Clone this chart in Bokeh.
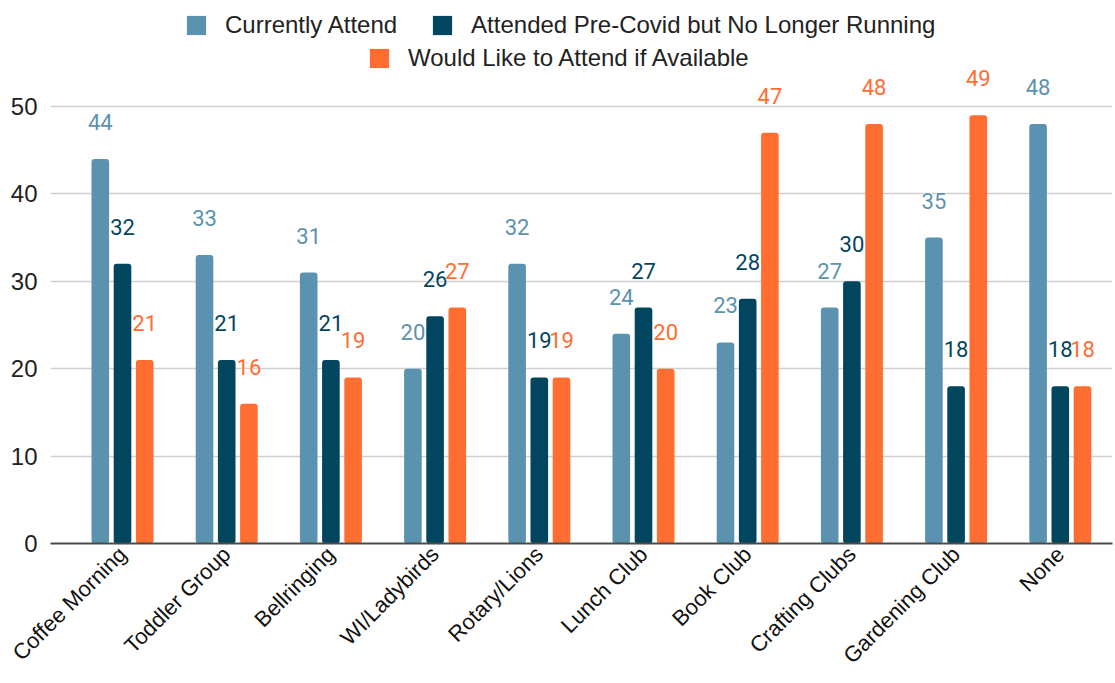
import numpy as np
from bokeh.plotting import figure
from bokeh.models import ColumnDataSource, Legend, LegendItem, FixedTicker, Range1d
from bokeh.core.properties import value
from bokeh.embed import file_html
from bokeh.resources import INLINE

categories = ["Coffee Morning", "Toddler Group", "Bellringing", "WI/Ladybirds", "Rotary/Lions",
              "Lunch Club", "Book Club", "Crafting Clubs", "Gardening Club", "None"]
currently_attend = [44, 33, 31, 20, 32, 24, 23, 27, 35, 48]
pre_covid = [32, 21, 21, 26, 19, 27, 28, 30, 18, 18]
would_like = [21, 16, 19, 27, 19, 20, 47, 48, 49, 18]
series_names = ["Currently Attend", "Attended Pre-Covid but No Longer Running",
                "Would Like to Attend if Available"]
colors = ["#5b92af", "#02455f", "#ff6d30"]
y_ticks = [0, 10, 20, 30, 40, 50]

positions = list(range(1, len(categories) + 1))

p = figure(width=1113, height=681, x_range=Range1d(0.309, 10.501), y_range=Range1d(0, 62.13),
           output_backend="svg", toolbar_location=None,
           min_border_left=50, min_border_right=1, min_border_top=0, min_border_bottom=138)
p.outline_line_color = None
p.background_fill_color = "white"
p.border_fill_color = "white"

p.xgrid.grid_line_color = None
p.ygrid.grid_line_color = "#cfcfcf"
p.ygrid.grid_line_width = 1.5

p.yaxis.ticker = FixedTicker(ticks=y_ticks)
p.yaxis.axis_line_color = None
p.yaxis.major_tick_line_color = None
p.yaxis.minor_tick_line_color = None
p.yaxis.major_tick_out = 0
p.yaxis.major_tick_in = 0
p.yaxis.minor_tick_out = 0
p.yaxis.major_label_standoff = 13
p.yaxis.major_label_text_font = "Liberation Sans"
p.yaxis.major_label_text_font_size = "24px"
p.yaxis.major_label_text_color = "#222222"

p.xaxis.ticker = FixedTicker(ticks=positions)
p.xaxis.major_label_overrides = {pos: c for pos, c in zip(positions, categories)}
p.xaxis.major_label_orientation = np.pi / 4
p.xaxis.axis_line_color = "#4a4a4a"
p.xaxis.axis_line_width = 2
p.xaxis.major_tick_line_color = None
p.xaxis.minor_tick_line_color = None
p.xaxis.major_tick_out = 0
p.xaxis.major_tick_in = 0
p.xaxis.minor_tick_out = 0
p.xaxis.major_label_standoff = 7
p.xaxis.major_label_text_font = "Liberation Sans"
p.xaxis.major_label_text_font_size = "22px"
p.xaxis.major_label_text_color = "#111111"

offsets = [-0.213, 0.0, 0.213]
bar_w = 0.169
items = []
for vals, name, col, off in zip([currently_attend, pre_covid, would_like], series_names, colors, offsets):
    src = ColumnDataSource(dict(x=[pos + off for pos in positions], top=vals,
                                lbl=[str(v) for v in vals]))
    r = p.vbar(x="x", top="top", width=bar_w, bottom=0, source=src, fill_color=col,
               line_color=None, border_radius=3)
    items.append(LegendItem(label=name, renderers=[r]))
    # white halo underneath, then clean text on top
    p.text(x="x", y="top", text="lbl", source=src, y_offset=-37, text_align="center",
           text_baseline="alphabetic", text_font=value("Roboto"), text_font_size="22px",
           text_color="white", text_outline_color="white")
    p.text(x="x", y="top", text="lbl", source=src, y_offset=-37, text_align="center",
           text_baseline="alphabetic", text_font=value("Roboto"), text_font_size="22px",
           text_color=col)

def make_legend(its, loc):
    lg = Legend(items=its, orientation="horizontal", location=loc,
                glyph_width=24, glyph_height=24, label_standoff=17, spacing=33,
                padding=0, margin=0, border_line_color=None,
                label_text_font="Liberation Sans", label_text_font_size="24px",
                label_text_color="#222222", background_fill_alpha=0)
    return lg

p.add_layout(make_legend(items[:2], (134, 504)))
p.add_layout(make_legend([items[2]], (317, 471)))

open("out.html", "w").write(file_html(p, INLINE))
